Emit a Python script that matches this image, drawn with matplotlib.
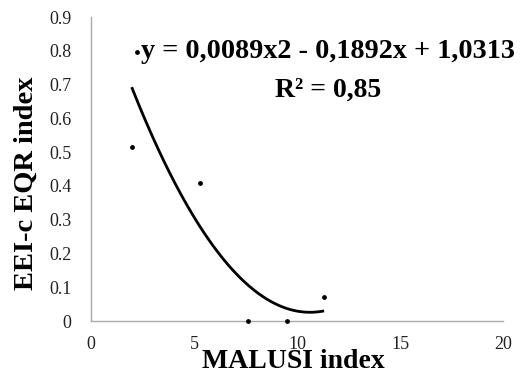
import numpy as np
import matplotlib
matplotlib.use("Agg")
import matplotlib.pyplot as plt

# Data
malusi = [2.0, 2.25, 5.3, 7.6, 9.5, 11.3]
eqr = [0.515, 0.795, 0.408, 0.0, 0.0, 0.071]
coef = [0.0089, -0.1892, 1.0313]
fit_range = [2.0, 11.25]
xticks = [0, 5, 10, 15, 20]
yticks = [0, 0.1, 0.2, 0.3, 0.4, 0.5, 0.6, 0.7, 0.8, 0.9]
ytick_labels = ["0", "0.1", "0.2", "0.3", "0.4", "0.5", "0.6", "0.7", "0.8", "0.9"]
eq_text = "y = 0,0089x2 - 0,1892x + 1,0313"
r2_text = "R² = 0,85"

plt.rcParams['font.family'] = ['Liberation Serif', 'DejaVu Serif']

W, H = 522, 374
fig = plt.figure(figsize=(W / 100, H / 100), dpi=100)
ax = fig.add_axes([91 / W, 1 - 321 / H, (503 - 91) / W, (321 - 17) / H])

ax.scatter(malusi, eqr, s=6, color='black', zorder=3, clip_on=False)
xf = np.linspace(fit_range[0], fit_range[1], 200)
yf = np.polyval(coef, xf)
ax.plot(xf, yf, color='black', lw=2.0)

ax.set_xlim(0, 20)
ax.set_ylim(0, 0.9)
ax.set_xticks(xticks)
ax.set_yticks(yticks)
ax.set_yticklabels(ytick_labels)
ax.tick_params(length=0, labelsize=13, colors='#222222')
ax.tick_params(axis='x', pad=11)
ax.tick_params(axis='y', pad=14)
for s in ['top', 'right']:
    ax.spines[s].set_visible(False)
for s in ['left', 'bottom']:
    ax.spines[s].set_color('#aaaaaa')
    ax.spines[s].set_linewidth(1.0)

fig.text(293 / W, 1 - 362 / H, "MALUSI index", ha='center', va='center',
         fontsize=20, fontweight='bold')
fig.text(26 / W, 1 - 183 / H, "EEI-c EQR index", ha='center', va='center',
         rotation=90, fontsize=20.5, fontweight='bold')
fig.text(141 / W, 1 - 52 / H, eq_text, ha='left', va='center',
         fontsize=20.3, fontweight='bold')
fig.text(328 / W, 1 - 90 / H, r2_text, ha='center', va='center',
         fontsize=20, fontweight='bold')

fig.savefig("out.png", dpi=100, facecolor='white')
